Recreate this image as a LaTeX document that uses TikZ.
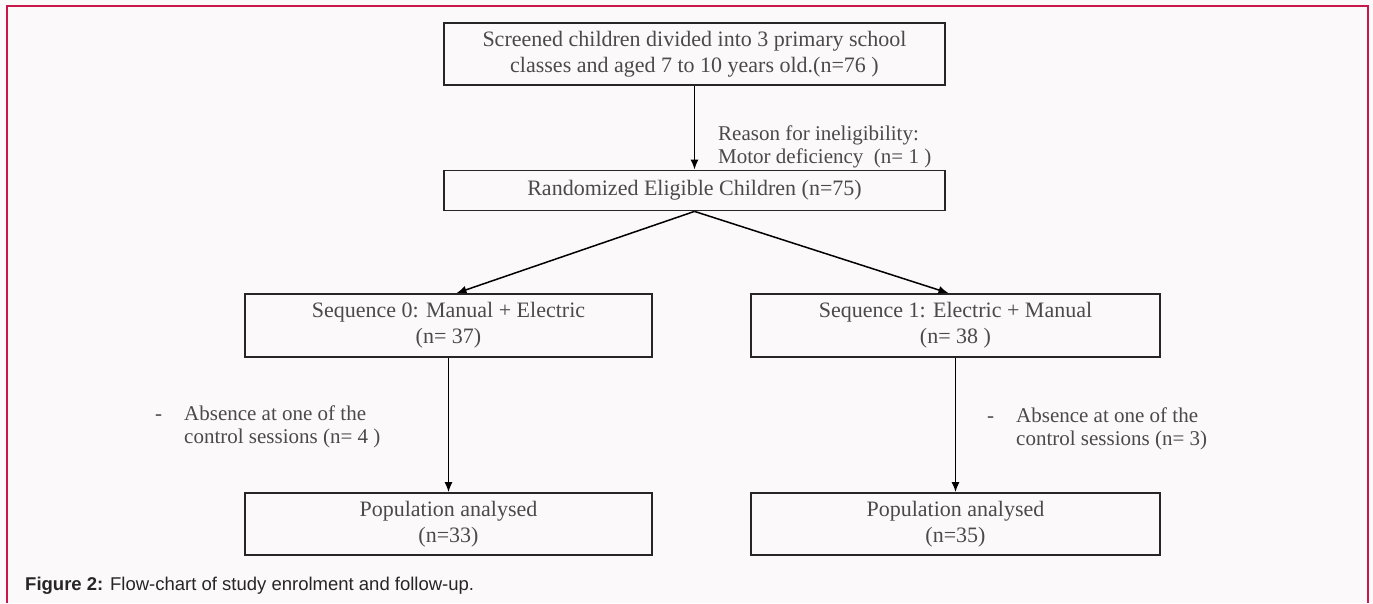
\documentclass[tikz,border=0pt]{standalone}
\usepackage{fontspec}
\setmainfont{Liberation Serif}
\setsansfont{Liberation Sans}
\usetikzlibrary{arrows.meta,calc,positioning}
\definecolor{frame}{HTML}{C8174B}
\definecolor{paper}{HTML}{FBF9FA}
\definecolor{ink}{HTML}{4A4A4A}

\begin{document}
\begin{tikzpicture}[x=1pt, y=-1pt, >={Latex[length=10pt,width=8pt]},
    box/.style={draw=black!85, line width=1.8pt, inner sep=0pt, align=center, text=ink, font=\fontsize{22}{26}\selectfont},
    note/.style={inner sep=0pt, anchor=west, align=left, text=ink, font=\fontsize{21}{23}\selectfont},
    flow/.style={->, line width=1.5pt}]
    \useasboundingbox[fill=paper] (0,0) rectangle (1373,603);
    % Cornice
    \draw[frame, line width=2pt] (7,603) -- (7,6) -- (1368,6) -- (1368,603);

    % Arruolamento
    \node[box, minimum width=501pt, minimum height=62pt] (screen) at (694.5,54) {Screened children divided into 3 primary school\\classes and aged 7 to 10 years old.(n=76 )};
    \node[box, minimum width=501pt, minimum height=40pt] (rand) at (694.5,190.5) {Randomized Eligible Children (n=75)};
    \node[note] (inelig) at (718,147) {Reason for ineligibility:\\Motor deficiency\ \ (n= 1 )};

    % Sequenze
    \node[box, minimum width=407pt, minimum height=63pt] (seq0) at (448.5,325.5) {Sequence 0: Manual + Electric\\(n= 37)};
    \node[box, minimum width=409pt, minimum height=63pt] (seq1) at (955.5,325.5) {Sequence 1: Electric + Manual\\(n= 38 )};

    % Analisi
    \node[box, minimum width=407pt, minimum height=62pt] (pop0) at (448.5,524) {Population analysed\\(n=33)};
    \node[box, minimum width=409pt, minimum height=62pt] (pop1) at (955.5,524) {Population analysed\\(n=35)};
    \node[note] (abs0) at (155,427) {\makebox[29pt][l]{-}Absence at one of the\\\hspace*{29pt}control sessions (n= 4 )};
    \node[note] (abs1) at (987,429) {\makebox[29pt][l]{-}Absence at one of the\\\hspace*{29pt}control sessions (n= 3)};

    % Frecce
    \draw[flow] (screen.south) -- (rand.north);
    \draw[flow] (rand.south) -- ($(seq0.north)+(8,0)$);
    \draw[flow] (rand.south) -- ($(seq1.north)+(-7,0)$);
    \draw[flow] (seq0.south) -- (pop0.north);
    \draw[flow] (seq1.south) -- (pop1.north);

    % Didascalia
    \node[anchor=west, inner sep=0pt, text=black!85, font=\sffamily\fontsize{18.5}{22}\selectfont] (cap) at (25,586) {\bfseries Figure 2:\mdseries{} Flow-chart of study enrolment and follow-up.};
\end{tikzpicture}
\end{document}
